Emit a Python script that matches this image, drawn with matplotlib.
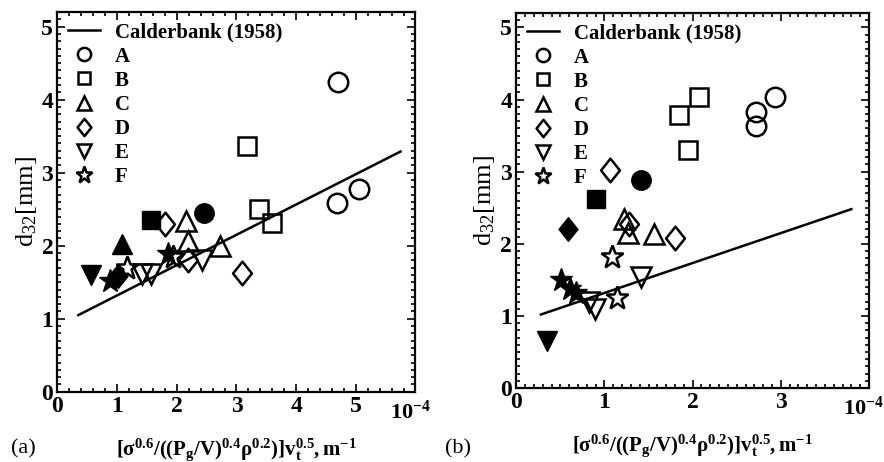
import matplotlib
matplotlib.use("Agg")
import matplotlib.pyplot as plt
from matplotlib.lines import Line2D
from matplotlib.path import Path
from matplotlib.ticker import MultipleLocator

plt.rcParams['font.family'] = ['Liberation Serif', 'DejaVu Serif']
plt.rcParams['mathtext.fontset'] = 'custom'
plt.rcParams['mathtext.rm'] = 'Liberation Serif'
plt.rcParams['mathtext.it'] = 'Liberation Serif'
plt.rcParams['mathtext.bf'] = 'Liberation Serif:bold'

# --- donnees (x en 1e-4 m, d32 en mm) ---
series = ['A', 'B', 'C', 'D', 'E', 'F']

# losange un peu plus haut que large, comme sur l'original
diamond = Path([(0, 1), (0.8, 0), (0, -1), (-0.8, 0), (0, 1)],
               [Path.MOVETO, Path.LINETO, Path.LINETO, Path.LINETO, Path.CLOSEPOLY])
markers = {'A': 'o', 'B': 's', 'C': '^', 'D': diamond, 'E': 'v', 'F': '*'}

# panneau (a)
a_open_x = {'A': [4.70, 4.69, 5.05], 'B': [3.18, 3.38, 3.59], 'C': [2.16, 2.18, 2.72],
            'D': [1.80, 2.19, 3.10], 'E': [1.42, 1.57, 2.43], 'F': [1.16, 1.93]}
a_open_y = {'A': [4.24, 2.59, 2.78], 'B': [3.36, 2.50, 2.31], 'C': [2.34, 2.06, 1.99],
            'D': [2.30, 1.80, 1.63], 'E': [1.61, 1.61, 1.80], 'F': [1.69, 1.85]}
a_fill_x = {'A': [2.46], 'B': [1.57], 'C': [1.08], 'D': [1.02], 'E': [0.57], 'F': [0.88, 1.86]}
a_fill_y = {'A': [2.45], 'B': [2.35], 'C': [2.02], 'D': [1.58], 'E': [1.60], 'F': [1.51, 1.88]}
a_line_x = [0.35, 5.75]
a_line_y = [1.05, 3.29]

# panneau (b)
b_open_x = {'A': [2.72, 2.72, 2.93], 'B': [1.85, 2.07, 1.95], 'C': [1.22, 1.27, 1.56],
            'D': [1.06, 1.28, 1.80], 'E': [0.83, 0.89, 1.41], 'F': [1.09, 1.14]}
b_open_y = {'A': [3.82, 3.63, 4.03], 'B': [3.79, 4.03, 3.30], 'C': [2.34, 2.15, 2.14],
            'D': [3.02, 2.28, 2.08], 'E': [1.20, 1.09, 1.54], 'F': [1.82, 1.25]}
b_fill_x = {'A': [1.42], 'B': [0.91], 'C': [], 'D': [0.59], 'E': [0.35], 'F': [0.51, 0.61, 0.68]}
b_fill_y = {'A': [2.88], 'B': [2.62], 'C': [], 'D': [2.21], 'E': [0.65], 'F': [1.50, 1.38, 1.32]}
b_line_x = [0.28, 3.80]
b_line_y = [1.02, 2.48]

sizes = {'A': 14, 'B': 12.5, 'C': 14, 'D': 17, 'E': 14, 'F': 17}
leg_sizes = {'A': 9.5, 'B': 9, 'C': 10, 'D': 12.5, 'E': 10, 'F': 12.5}

xlabel = r'$\mathbf{[σ^{0.6}/((P_g/V)^{0.4}ρ^{0.2})]v_t^{0.5},m^{-1}}$'


def draw_panel(ax, open_x, open_y, fill_x, fill_y, line_x, line_y, xmax, xminor):
    ax.plot(line_x, line_y, color='black', lw=1.8)
    for s in series:
        m = markers[s]
        ms = sizes[s]
        ax.plot(open_x[s], open_y[s], ls='none', marker=m, ms=ms,
                mfc='none', mec='black', mew=1.8)
        ax.plot(fill_x[s], fill_y[s], ls='none', marker=m, ms=ms,
                mfc='black', mec='black', mew=1.0)

    ax.set_xlim(0, xmax)
    ax.set_ylim(0, 5.2)
    ax.xaxis.set_minor_locator(MultipleLocator(xminor))
    ax.yaxis.set_major_locator(MultipleLocator(1))
    ax.yaxis.set_minor_locator(MultipleLocator(0.1))
    ax.set_xticks(range(0, int(xmax)))
    ax.tick_params(which='both', direction='in', top=True, right=True, width=1.2)
    ax.tick_params(which='major', length=6, labelsize=17, pad=3)
    ax.tick_params(which='minor', length=3)
    for lab in ax.get_xticklabels() + ax.get_yticklabels():
        lab.set_fontweight('bold')
    for sp in ax.spines.values():
        sp.set_linewidth(1.6)

    ax.text(0.985, -0.022, r'$\mathbf{10^{-4}}$', transform=ax.transAxes,
            ha='center', va='top', fontsize=16)
    ax.set_xlabel(xlabel, fontsize=15, labelpad=14)
    ax.set_ylabel(r'd$_{32}$[mm]', fontsize=19, labelpad=2)

    handles = [Line2D([], [], color='black', lw=1.8)]
    labels = ['Calderbank (1958)']
    for s in series:
        handles.append(Line2D([], [], ls='none', marker=markers[s], ms=leg_sizes[s],
                              mfc='none', mec='black', mew=1.8))
        labels.append(s)
    ax.legend(handles, labels, loc='upper left', frameon=False,
              prop={'family': 'Liberation Serif', 'weight': 'bold', 'size': 15},
              handlelength=1.55, handletextpad=0.7, labelspacing=0.2,
              borderaxespad=0.1, bbox_to_anchor=(0.0, 1.0))


fig = plt.figure(figsize=(8.84, 4.62), dpi=100)
ax1 = fig.add_axes([0.065, 0.152, 0.405, 0.822])
ax2 = fig.add_axes([0.584, 0.160, 0.399, 0.812])

draw_panel(ax1, a_open_x, a_open_y, a_fill_x, a_fill_y, a_line_x, a_line_y, 6, 0.2)
draw_panel(ax2, b_open_x, b_open_y, b_fill_x, b_fill_y, b_line_x, b_line_y, 4, 0.1)

fig.text(0.013, 0.018, '(a)', fontsize=16)
fig.text(0.503, 0.018, '(b)', fontsize=16)

fig.savefig('out.png', dpi=100)
